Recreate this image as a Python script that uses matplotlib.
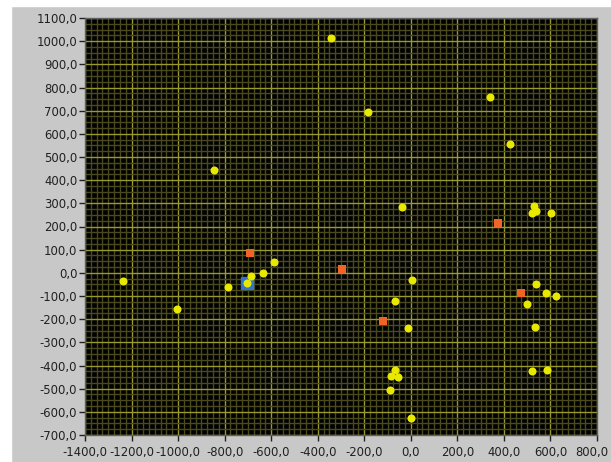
import numpy as np
import matplotlib
matplotlib.use('Agg')
import matplotlib.pyplot as plt
from matplotlib.ticker import MultipleLocator, FuncFormatter

# yellow points (x, y)
yel_x = [-345, -185, 340, 425, -845, -40, 528, 520, 537, 602,
         5, -70, -10, 540, 580, 625, 500, 535, 520, 585,
         -590, -635, -685, -705, -785, -1235, -1005,
         -70, -85, -55, -90, 0]
yel_y = [1015, 695, 760, 555, 445, 285, 290, 257, 265, 260,
         -30, -120, -240, -50, -85, -100, -135, -235, -425, -420,
         45, 0, -15, -45, -60, -35, -155,
         -420, -445, -450, -505, -625]

# orange squares
org_x = [-690, -295, 375, -120, 475]
org_y = [85, 15, 215, -210, -85]

# blue marker (current position)
cur_x = [-705]
cur_y = [-45]

X_MIN, X_MAX = -1400, 800
Y_MIN, Y_MAX = -700, 1100

fig = plt.figure(figsize=(6.11, 4.62), dpi=100, facecolor='#c8c8c8')

# white strip along top and left edge
fig.patches.append(plt.Rectangle((0, 1 - 6 / 462), 1, 6 / 462, transform=fig.transFigure,
                                 color='white', zorder=0))
fig.patches.append(plt.Rectangle((0, 0), 11 / 611, 1, transform=fig.transFigure,
                                 color='white', zorder=0))

ax = fig.add_axes([85 / 611, 27 / 462, 512 / 611, 417 / 462])
ax.set_facecolor('black')

ax.set_xlim(X_MIN, X_MAX)
ax.set_ylim(Y_MIN, Y_MAX)
ax.xaxis.set_major_locator(MultipleLocator(200))
ax.xaxis.set_minor_locator(MultipleLocator(25))
ax.yaxis.set_major_locator(MultipleLocator(100))
ax.yaxis.set_minor_locator(MultipleLocator(25))


# comma as decimal separator, plain hyphen for negatives
def comma(v):
    return ('%.1f' % v).replace('.', ',')


ax.yaxis.set_major_formatter(FuncFormatter(lambda v, p: comma(v)))
# last x label is drawn separately so it stays inside the window
ax.xaxis.set_major_formatter(FuncFormatter(lambda v, p: '' if v >= X_MAX else comma(v)))

ax.grid(which='minor', color='#4a4a1c', linewidth=1.0)
ax.grid(which='major', color='#9a9a2c', linewidth=1.0)
ax.set_axisbelow(True)

ax.tick_params(which='major', length=4, width=1, color='#202020',
               labelsize=8.4, labelcolor='#202020')
ax.tick_params(axis='y', pad=1.5)
ax.tick_params(axis='x', pad=4)
ax.tick_params(which='minor', length=0)

ax.annotate(comma(X_MAX), xy=(1, 0), xycoords='axes fraction',
            xytext=(-4, -8), textcoords='offset points',
            ha='center', va='top', fontsize=8.4, color='#202020')

for s in ax.spines.values():
    s.set_color('#606060')
    s.set_linewidth(1)

ax.plot(cur_x, cur_y, 's', color='#3474c4', markersize=8.6, zorder=3)
ax.plot(yel_x, yel_y, 'o', color='#e8e800', markersize=5.8, markeredgewidth=0, zorder=4)
ax.plot(org_x, org_y, 's', color='#f26426', markersize=5.8, markeredgewidth=0, zorder=4)

fig.savefig('out.png', dpi=100, facecolor=fig.get_facecolor())
